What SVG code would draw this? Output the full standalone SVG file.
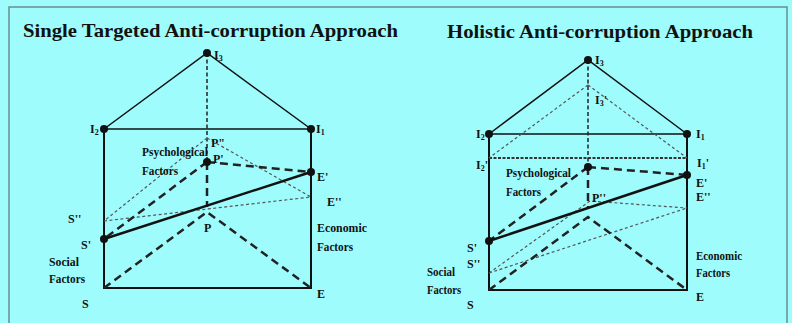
<svg xmlns="http://www.w3.org/2000/svg" width="792" height="323" viewBox="0 0 792 323">
<style>
.bg{fill:#9ffcfc}
.frame{fill:none;stroke:#6a8f8f;stroke-width:1.5}
.title{font-weight:bold;font-size:19px;fill:#111}
.lbl{font-weight:bold;font-size:12px;fill:#111}
.sub{font-size:8px}
.solid{fill:none;stroke:#111;stroke-width:1.5}
.box{fill:none;stroke:#111;stroke-width:2}
.thick{fill:none;stroke:#111;stroke-width:2.5}
.dash{fill:none;stroke:#222;stroke-width:2.5;stroke-dasharray:8 5}
.vdash{fill:none;stroke:#222;stroke-width:1.5;stroke-dasharray:4 2.5}
.dot{fill:none;stroke:#555;stroke-width:1.2;stroke-dasharray:3 2.5}
.dotd{fill:none;stroke:#333;stroke-width:2;stroke-dasharray:3 1.5}
.pt{fill:#111}
</style>
<rect class="bg" x="0" y="0" width="792" height="323"/>
<path class="frame" d="M9,323 V7 H787 V323"/>

<g font-family="'Liberation Serif', 'Times New Roman', serif">
<text class="title" x="23" y="37" textLength="375" lengthAdjust="spacingAndGlyphs">Single Targeted Anti-corruption Approach</text>
<text class="title" x="447" y="38" textLength="306" lengthAdjust="spacingAndGlyphs">Holistic Anti-corruption Approach</text>
</g>

<g id="connectors">
  <!-- left diagram -->
  <path class="solid" d="M104,129 L207,53 L311,129 M104,129 H311"/>
  <path class="box" d="M104,129 V288 H311 V129"/>
  <path class="vdash" d="M207,53 V162"/>
  <path class="dash" d="M207,162 V207"/>
  <path class="dot" d="M207,138 L104,221 M207,138 L311,197 M104,221 L311,197"/>
  <path class="dash" d="M207,162 L311,172 M207,162 L104,239"/>
  <path class="dash" d="M104,288 L207,212 L311,288"/>
  <path class="thick" d="M104,239 L311,172"/>

  <!-- right diagram -->
  <path class="solid" d="M489,134 L588,60 L687,134 M489,134 H687"/>
  <path class="box" d="M489,134 V290 H687 V134"/>
  <path class="vdash" d="M588,60 V167"/>
  <path class="dotd" d="M489,158 H687"/>
  <path class="dot" d="M588,85 L489,158 M588,85 L687,158"/>
  <path class="dash" d="M588,167 V208"/>
  <path class="dot" d="M489,273 L590,201 L687,208 M489,273 L687,208"/>
  <path class="dash" d="M588,167 L687,175 M588,167 L489,241"/>
  <path class="dash" d="M489,290 L588,217 L687,290"/>
  <path class="thick" d="M489,241 L687,175"/>
</g>

<g font-family="'Liberation Serif', 'Times New Roman', serif">
<!-- left nodes -->
<g id="L-I3"><circle class="pt" cx="207" cy="53" r="4"/><text class="lbl" x="214" y="59">I<tspan class="sub" dy="2">3</tspan></text></g>
<g id="L-I2"><circle class="pt" cx="104" cy="129" r="4"/><text class="lbl" x="90" y="133">I<tspan class="sub" dy="2">2</tspan></text></g>
<g id="L-I1"><circle class="pt" cx="311" cy="129" r="4"/><text class="lbl" x="316" y="133">I<tspan class="sub" dy="2">1</tspan></text></g>
<g id="L-P2"><text class="lbl" x="211" y="147">P"</text></g>
<g id="L-Psy"><text class="lbl" x="142" y="156" textLength="66" lengthAdjust="spacingAndGlyphs">Psychological</text><text class="lbl" x="142" y="175" textLength="36" lengthAdjust="spacingAndGlyphs">Factors</text></g>
<g id="L-P1"><circle class="pt" cx="207" cy="162" r="4"/><text class="lbl" x="213" y="163">P'</text></g>
<g id="L-E1"><circle class="pt" cx="311" cy="172" r="4"/><text class="lbl" x="317" y="181">E'</text></g>
<g id="L-E2"><text class="lbl" x="327" y="206">E''</text></g>
<g id="L-P"><text class="lbl" x="204" y="232">P</text></g>
<g id="L-S2"><text class="lbl" x="68" y="223">S''</text></g>
<g id="L-S1"><circle class="pt" cx="104" cy="239" r="4"/><text class="lbl" x="81" y="249">S'</text></g>
<g id="L-Soc"><text class="lbl" x="49" y="266" textLength="30" lengthAdjust="spacingAndGlyphs">Social</text><text class="lbl" x="49" y="283" textLength="36" lengthAdjust="spacingAndGlyphs">Factors</text></g>
<g id="L-S"><text class="lbl" x="82" y="308">S</text></g>
<g id="L-Eco"><text class="lbl" x="317" y="232" textLength="50" lengthAdjust="spacingAndGlyphs">Economic</text><text class="lbl" x="317" y="251" textLength="36" lengthAdjust="spacingAndGlyphs">Factors</text></g>
<g id="L-E"><text class="lbl" x="317" y="298">E</text></g>

<!-- right nodes -->
<g id="R-I3"><circle class="pt" cx="588" cy="60" r="4"/><text class="lbl" x="595" y="64">I<tspan class="sub" dy="2">3</tspan></text></g>
<g id="R-I3p"><text class="lbl" x="595" y="104">I<tspan class="sub" dy="2">3</tspan><tspan dy="-2">'</tspan></text></g>
<g id="R-I2"><circle class="pt" cx="489" cy="134" r="4"/><text class="lbl" x="476" y="138">I<tspan class="sub" dy="2">2</tspan></text></g>
<g id="R-I1"><circle class="pt" cx="687" cy="134" r="4"/><text class="lbl" x="696" y="138">I<tspan class="sub" dy="2">1</tspan></text></g>
<g id="R-I2p"><text class="lbl" x="476" y="169">I<tspan class="sub" dy="2">2</tspan><tspan dy="-2">'</tspan></text></g>
<g id="R-I1p"><text class="lbl" x="697" y="167">I<tspan class="sub" dy="2">1</tspan><tspan dy="-2">'</tspan></text></g>
<g id="R-Psy"><text class="lbl" x="506" y="177" textLength="65" lengthAdjust="spacingAndGlyphs">Psychological</text><text class="lbl" x="506" y="196" textLength="35" lengthAdjust="spacingAndGlyphs">Factors</text></g>
<g id="R-P1"><circle class="pt" cx="588" cy="167" r="4"/></g>
<g id="R-E1"><circle class="pt" cx="687" cy="175" r="4"/><text class="lbl" x="696" y="187">E'</text></g>
<g id="R-E2"><text class="lbl" x="696" y="201">E''</text></g>
<g id="R-P2"><text class="lbl" x="592" y="202">P''</text></g>
<g id="R-S1"><circle class="pt" cx="489" cy="241" r="4"/><text class="lbl" x="467" y="252">S'</text></g>
<g id="R-S2"><text class="lbl" x="467" y="268">S''</text></g>
<g id="R-Soc"><text class="lbl" x="427" y="276" textLength="28" lengthAdjust="spacingAndGlyphs">Social</text><text class="lbl" x="427" y="294" textLength="34" lengthAdjust="spacingAndGlyphs">Factors</text></g>
<g id="R-S"><text class="lbl" x="467" y="309">S</text></g>
<g id="R-Eco"><text class="lbl" x="696" y="260" textLength="46" lengthAdjust="spacingAndGlyphs">Economic</text><text class="lbl" x="696" y="277" textLength="34" lengthAdjust="spacingAndGlyphs">Factors</text></g>
<g id="R-E"><text class="lbl" x="696" y="301">E</text></g>
</g>
</svg>
